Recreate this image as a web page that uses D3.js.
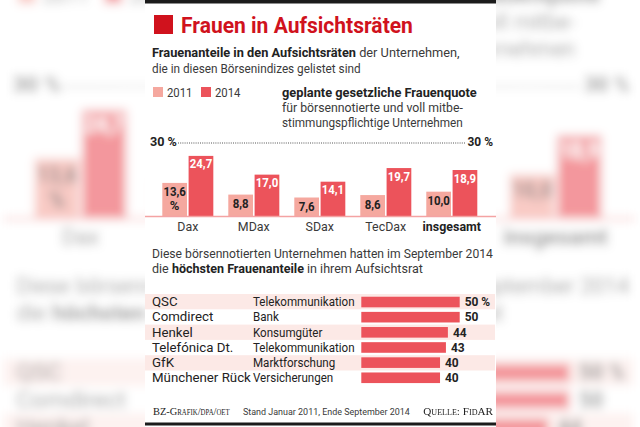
<!DOCTYPE html>
<html><head><meta charset="utf-8">
<script src="https://cdn.jsdelivr.net/npm/d3@7"></script>
<style>body{margin:0;background:#fff;overflow:hidden}svg{display:block}</style>
</head><body>
<svg id="svg" width="640" height="427"></svg>
<script>
// ---------- data ----------
const indices = ["Dax", "MDax", "SDax", "TecDax", "insgesamt"];
const years = ["2011", "2014"];
const values2011 = [13.6, 8.8, 7.6, 8.6, 10.0];
const values2014 = [24.7, 17.0, 14.1, 19.7, 18.9];
const quota = 30;
const companies = ["QSC", "Comdirect", "Henkel", "Telefónica Dt.", "GfK", "Münchener Rück"];
const industries = ["Telekommunikation", "Bank", "Konsumgüter", "Telekommunikation", "Marktforschung", "Versicherungen"];
const shares = [50, 50, 44, 43, 40, 40];

// ---------- setup ----------
const FONT = "Roboto, 'Liberation Sans', sans-serif";
const SERIF = "'Liberation Serif', 'DejaVu Serif', serif";
const RED = "#d0121d", C2014 = "#ec535b", C2011 = "#f5a89f", STRIPE = "#fce9e6";
const TXT = "#3a3a3a", DARK = "#222";
const de = d3.formatLocale({decimal: ",", thousands: ".", grouping: [3], currency: ["", " €"]});
const f1 = de.format(".1f");

const svg = d3.select("#svg");
const defs = svg.append("defs");
defs.append("filter").attr("id", "blur").attr("x", "-20%").attr("y", "-20%").attr("width", "140%").attr("height", "140%")
  .append("feGaussianBlur").attr("stdDeviation", 2.8);

const g = svg.append("g").attr("id", "chart");

function scaleX(sel, k) {
  const x = +sel.attr("x");
  sel.attr("transform", `translate(${x},0) scale(${k},1) translate(${-x},0)`);
  return sel;
}
function fit(sel, w) {
  const k = w / sel.node().getComputedTextLength();
  scaleX(sel, k);
  return k;
}
function text(x, y, size, weight, fill, anchor) {
  return g.append("text").attr("x", x).attr("y", y).attr("font-family", FONT)
    .attr("font-size", size).attr("font-weight", weight || 400).attr("fill", fill || TXT)
    .attr("text-anchor", anchor || "start");
}

// panel
g.append("rect").attr("x", 145).attr("y", 0).attr("width", 351).attr("height", 427).attr("fill", "#fff");
g.append("rect").attr("x", 145).attr("y", 0).attr("width", 351).attr("height", 3.5).attr("fill", "#1b1b1b");
g.append("rect").attr("x", 145).attr("y", 422.5).attr("width", 351).attr("height", 3).attr("fill", "#1b1b1b");

// title
g.append("rect").attr("x", 154).attr("y", 15).attr("width", 19).attr("height", 19).attr("fill", RED);
fit(text(181, 33, 21.5, 700, RED).text("Frauen in Aufsichtsräten"), 232);

// subtitle
const s1 = text(152, 57, 13, 400, TXT);
s1.append("tspan").attr("font-weight", 700).attr("fill", DARK).text("Frauenanteile in den Aufsichtsräten");
s1.append("tspan").text(" der Unternehmen,");
fit(s1, 308);
fit(text(152, 73, 13, 400, TXT).text("die in diesen Börsenindizes gelistet sind"), 209);

// legend
const legX = [153, 201];
years.forEach((yr, i) => {
  g.append("rect").attr("x", legX[i]).attr("y", 87).attr("width", 10).attr("height", 10)
    .attr("fill", i ? C2014 : C2011);
  fit(text(legX[i] + 14, 96.7, 13, 400, TXT).text(yr), 25.5);
});

// quota note
fit(text(282, 96.7, 13, 700, DARK).text("geplante gesetzliche Frauenquote"), 195);
fit(text(282, 111.7, 13, 400, TXT).text("für börsennotierte und voll mitbe-"), 181);
fit(text(282, 126.7, 13, 400, TXT).text("stimmungspflichtige Unternehmen"), 181);

// ---------- grouped bar chart ----------
const x0 = d3.scaleBand().domain(indices).range([162.3, 477.3]).paddingInner(0.227).paddingOuter(0);
const x1 = d3.scaleBand().domain(years).range([0, x0.bandwidth()]).paddingInner(0.06);
const y = d3.scaleLinear().domain([0, quota]).range([216, 143]);

// quota line
g.append("line").attr("x1", 178).attr("x2", 466).attr("y1", y(quota)).attr("y2", y(quota))
  .attr("stroke", "#555").attr("stroke-width", 1).attr("stroke-dasharray", "1,1.2");
fit(text(150, y(quota) + 3, 12.5, 700, DARK).text(quota + " %"), 27);
fit(text(493, y(quota) + 3, 12.5, 700, DARK, "end").text(quota + " %"), 25.5);

const rows = indices.map((k, i) => ({k, v: [values2011[i], values2014[i]]}));
const grp = g.append("g").selectAll("g").data(rows).join("g")
  .attr("transform", d => `translate(${x0(d.k)},0)`);
grp.selectAll("rect").data(d => d.v.map((v, j) => ({yr: years[j], v}))).join("rect")
  .attr("x", d => x1(d.yr)).attr("width", x1.bandwidth())
  .attr("y", d => y(d.v)).attr("height", d => y(0) - y(d.v))
  .attr("fill", d => d.yr === "2011" ? C2011 : C2014);

// baseline
g.append("line").attr("x1", 145).attr("x2", 496).attr("y1", y(0) + 0.5).attr("y2", y(0) + 0.5)
  .attr("stroke", "#f4a3a3").attr("stroke-width", 1.5);

// bar value labels + category labels
rows.forEach((r, i) => {
  r.v.forEach((v, j) => {
    const cx = x0(r.k) + x1(years[j]) + x1.bandwidth() / 2;
    const top = y(v);
    scaleX(text(cx, top + (j ? 12.5 : 13.5), 13, 700, j ? "#fff" : DARK, "middle").text(f1(v)), 0.88);
    if (i === 0 && j === 0) {
      text(cx, top + 27.5, 13, 700, DARK, "middle").text("%");
    }
  });
  const bold = r.k === "insgesamt";
  scaleX(text(x0(r.k) + x0.bandwidth() / 2, 231, 13.5, bold ? 700 : 400, bold ? DARK : TXT, "middle").text(r.k), 0.92);
});

// ---------- second section ----------
fit(text(152, 258, 13, 400, TXT).text("Diese börsennotierten Unternehmen hatten im September 2014"), 341);
const s2 = text(152, 273, 13, 400, TXT);
s2.append("tspan").text("die ");
s2.append("tspan").attr("font-weight", 700).attr("fill", DARK).text("höchsten Frauenanteile");
s2.append("tspan").text(" in ihrem Aufsichtsrat");
fit(s2, 271);

const yRow = d3.scaleBand().domain(companies).range([294, 385.8]);
const yBar = d3.scaleBand().domain(companies).range([294, 385.8]).paddingInner(0.3).paddingOuter(0.18);
const xh = d3.scaleLinear().domain([0, 50]).range([361.3, 459.7]);

g.append("g").selectAll("rect").data(companies.filter((c, i) => i % 2 === 0)).join("rect")
  .attr("x", 145).attr("width", 350).attr("y", d => yRow(d)).attr("height", yRow.bandwidth())
  .attr("fill", STRIPE);

g.append("g").selectAll("rect").data(companies).join("rect")
  .attr("x", xh(0)).attr("y", d => yBar(d)).attr("height", yBar.bandwidth())
  .attr("width", (d, i) => xh(shares[i]) - xh(0)).attr("fill", C2014);

// text scale factors from the widest entries
const probeN = text(152, -50, 13, 400, DARK).text("Münchener Rück");
const kN = 99 / probeN.node().getComputedTextLength(); probeN.remove();
const probeI = text(253, -50, 13, 400, DARK).text("Telekommunikation");
const kI = 101.7 / probeI.node().getComputedTextLength(); probeI.remove();

companies.forEach((c, i) => {
  const by = yRow(c) + 12;
  scaleX(text(152, by, 13, 400, DARK).text(c), kN);
  scaleX(text(253, by, 13, 400, DARK).text(industries[i]), kI);
  scaleX(text(xh(shares[i]) + 5, by, 13, 700, DARK).text(shares[i] + (i === 0 ? " %" : "")), 0.92);
});

// footer
fit(g.append("text").attr("x", 153).attr("y", 415).attr("font-family", SERIF).attr("font-size", 11)
  .attr("fill", DARK).style("font-variant", "small-caps").text("BZ-Grafik/dpa/oet"), 82);
fit(text(243, 415, 9, 400, TXT).text("Stand Januar 2011, Ende September 2014"), 167);
fit(g.append("text").attr("x", 493).attr("y", 415).attr("text-anchor", "end").attr("font-family", SERIF)
  .attr("font-size", 11).attr("fill", DARK).style("font-variant", "small-caps").text("Quelle: FidAR"), 70);

// ---------- blurred enlarged backdrop ----------
const cx = 322, cy = 213.5, sc = 1.8;
svg.insert("use", "#chart").attr("href", "#chart")
  .attr("transform", `translate(${cx},${cy}) scale(${sc}) translate(${-cx},${-cy})`)
  .attr("filter", "url(#blur)").attr("opacity", 0.6);
</script>
</body></html>
